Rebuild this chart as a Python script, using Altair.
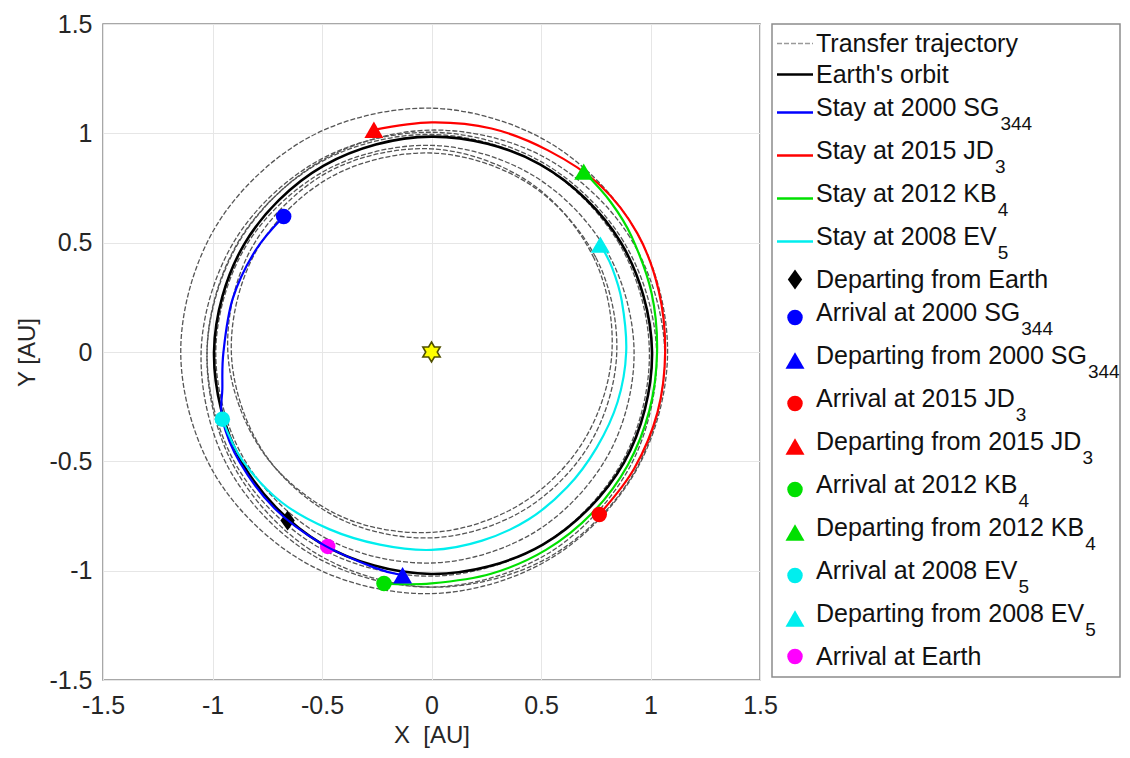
import math
import pandas as pd
import altair as alt

FONT = "Liberation Sans"

# ---------------- data ----------------
TICKS = [-1.5, -1, -0.5, 0, 0.5, 1, 1.5]

# radial readings (AU) of each closed orbit at these polar angles (deg)
ANGLES = [0, 30, 60, 90, 120, 150, 180, 210, 240, 270, 300, 330]
TRANSFER_R = {
    "T1": [1.078, 1.085, 1.098, 1.115, 1.130, 1.140, 1.145, 1.137, 1.122, 1.105, 1.090, 1.080],
    "T2": [1.028, 1.012, 1.004, 1.005, 1.016, 1.033, 1.052, 1.068, 1.076, 1.075, 1.064, 1.047],
    "T3": [0.995, 0.990, 0.990, 0.995, 1.005, 1.016, 1.025, 1.031, 1.031, 1.025, 1.016, 1.005],
    "T4": [0.925, 0.924, 0.931, 0.945, 0.961, 0.976, 0.985, 0.986, 0.979, 0.965, 0.949, 0.934],
    "T5": [0.824, 0.857, 0.896, 0.929, 0.949, 0.949, 0.930, 0.897, 0.859, 0.825, 0.806, 0.805],
    "T6": [0.846, 0.866, 0.889, 0.910, 0.923, 0.924, 0.914, 0.894, 0.871, 0.850, 0.837, 0.836],
    "T7": [1.065, 1.047, 1.029, 1.015, 1.009, 1.013, 1.025, 1.043, 1.061, 1.075, 1.081, 1.077],
}
EARTH_R = [1.007, 0.999, 0.991, 0.985, 0.984, 0.987, 0.993, 1.002, 1.010, 1.015, 1.017, 1.014]

# stay arcs (x, y in AU)
SG344_X = [-0.675, -0.804, -0.908, -0.95, -0.955, -0.955, -0.875, -0.716, -0.505, -0.264, -0.132]
SG344_Y = [0.62, 0.464, 0.243, 0.0, -0.168, -0.307, -0.505, -0.716, -0.875, -0.985, -1.021]
JD3_X = [0.766, 0.925, 1.032, 1.067, 1.038, 0.94, 0.766, 0.532, 0.274, 0.0, -0.263]
JD3_Y = [-0.743, -0.534, -0.276, 0.0, 0.278, 0.5425, 0.766, 0.922, 1.022, 1.05, 1.016]
KB4_X = [-0.217, 0.0, 0.272, 0.5225, 0.735, 0.896, 0.995, 1.03, 1.005, 0.914, 0.818, 0.695]
KB4_Y = [-1.059, -1.058, -1.014, -0.905, -0.735, -0.5175, -0.267, 0.0, 0.269, 0.5275, 0.686, 0.825]
EV5_X = [-0.955, -0.862, -0.686, -0.4675, -0.236, 0.0, 0.231, 0.4425, 0.619, 0.755, 0.850, 0.889, 0.869, 0.825, 0.771]
EV5_Y = [-0.307, -0.4975, -0.686, -0.810, -0.881, -0.905, -0.8626, -0.766, -0.619, -0.436, -0.2277, 0.0, 0.233, 0.385, 0.491]

BLUE, RED, GREEN, CYAN, MAGENTA = "#0000ff", "#ff0000", "#00e000", "#00eeee", "#ff00ff"
GRAY = "#555555"

# event markers
MK_NAME = ["Departing from Earth", "Arrival at 2000 SG344", "Departing from 2000 SG344",
           "Arrival at 2015 JD3", "Departing from 2015 JD3", "Arrival at 2012 KB4",
           "Departing from 2012 KB4", "Arrival at 2008 EV5", "Departing from 2008 EV5",
           "Arrival at Earth"]
MK_X = [-0.657, -0.675, -0.132, 0.766, -0.263, -0.217, 0.695, -0.955, 0.771, -0.474]
MK_Y = [-0.771, 0.62, -1.021, -0.743, 1.016, -1.059, 0.825, -0.307, 0.491, -0.889]
MK_COLOR = ["#000000", BLUE, BLUE, RED, RED, GREEN, GREEN, CYAN, CYAN, MAGENTA]
MK_KIND = ["diamond", "circle", "tri", "circle", "tri", "circle", "tri", "circle", "tri", "circle"]
MK_UNDER = ["Departing from Earth", "Arrival at Earth"]

SUN_X = [0.0]
SUN_Y = [0.0]

# legend
LEG_MAIN = ["Transfer trajectory", "Earth's orbit", "Stay at 2000 SG", "Stay at 2015 JD",
            "Stay at 2012 KB", "Stay at 2008 EV", "Departing from Earth", "Arrival at 2000 SG",
            "Departing from 2000 SG", "Arrival at 2015 JD", "Departing from 2015 JD",
            "Arrival at 2012 KB", "Departing from 2012 KB", "Arrival at 2008 EV",
            "Departing from 2008 EV", "Arrival at Earth"]
LEG_SUB = ["", "", "344", "3", "4", "5", "", "344", "344", "3", "3", "4", "4", "5", "5", ""]
LEG_KIND = ["dash", "line", "line", "line", "line", "line"] + MK_KIND
LEG_COLOR = ["#9a9a9a", "#000000", BLUE, RED, GREEN, CYAN] + MK_COLOR

# ---------------- styles ----------------
DIAMOND = "M0,-1L0.72,0L0,1L-0.72,0Z"
HEXAGRAM = ("M0,-1L0.2887,-0.5L0.866,-0.5L0.5774,0L0.866,0.5L0.2887,0.5L0,1"
            "L-0.2887,0.5L-0.866,0.5L-0.5774,0L-0.866,-0.5L-0.2887,-0.5Z")
SHAPE = {"diamond": DIAMOND, "circle": "circle", "tri": "triangle-up"}
SIZE = {"diamond": 400, "circle": 240, "tri": 360}

# ---------------- tables ----------------
def polar_rows(name, radii):
    out = []
    for i, (a, r) in enumerate(zip(ANGLES, radii)):
        t = math.radians(a)
        out.append(dict(name=name, order=i, x=r * math.cos(t), y=r * math.sin(t)))
    return out

gray_df = pd.DataFrame([row for n, rr in TRANSFER_R.items() for row in polar_rows(n, rr)])
earth_df = pd.DataFrame(polar_rows("Earth", EARTH_R))

arc_rows = []
for name, xs_, ys_, col in [("SG344", SG344_X, SG344_Y, BLUE), ("JD3", JD3_X, JD3_Y, RED),
                            ("KB4", KB4_X, KB4_Y, GREEN), ("EV5", EV5_X, EV5_Y, CYAN)]:
    for i, (xv, yv) in enumerate(zip(xs_, ys_)):
        arc_rows.append(dict(name=name, order=i, x=xv, y=yv, color=col))
arc_df = pd.DataFrame(arc_rows)

mk_df = pd.DataFrame(dict(name=MK_NAME, x=MK_X, y=MK_Y, color=MK_COLOR,
                          shape=[SHAPE[k] for k in MK_KIND], size=[SIZE[k] for k in MK_KIND]))
mk_df["under"] = mk_df["name"].isin(MK_UNDER)
sun_df = pd.DataFrame(dict(x=SUN_X, y=SUN_Y))

# ---------------- plot panel ----------------
LABEL_EXPR = "replace(format(datum.value, '~g'), '\u2212', '-')"
xs = alt.Scale(domain=[-1.5, 1.5], nice=False, zero=False)
ys = alt.Scale(domain=[-1.5, 1.5], nice=False, zero=False)
X = alt.X("x:Q", scale=xs, axis=alt.Axis(values=TICKS, title="X\u00a0 [AU]", labelExpr=LABEL_EXPR,
                                          labelPadding=13, titlePadding=5, labelFlush=False))
Y = alt.Y("y:Q", scale=ys, axis=alt.Axis(values=TICKS, title="Y [AU]", labelExpr=LABEL_EXPR,
                                          labelPadding=11, titlePadding=9, labelFlush=False))

gray = alt.Chart(gray_df).mark_line(interpolate="cardinal-closed", strokeDash=[5, 2],
                                    strokeWidth=1.3, color=GRAY).encode(
    x=X, y=Y, detail="name:N", order="order:Q")
earth = alt.Chart(earth_df).mark_line(interpolate="cardinal-closed", strokeWidth=2.6,
                                      color="#000000").encode(x=X, y=Y, order="order:Q")
arcs = alt.Chart(arc_df).mark_line(interpolate="cardinal", strokeWidth=2.2).encode(
    x=X, y=Y, detail="name:N", order="order:Q", color=alt.Color("color:N", scale=None))

def markers(flag):
    return alt.Chart(mk_df).transform_filter(
        alt.datum.under == flag
    ).mark_point(filled=True, opacity=1, strokeWidth=0).encode(
        x=X, y=Y,
        color=alt.Color("color:N", scale=None),
        shape=alt.Shape("shape:N", scale=None),
        size=alt.Size("size:Q", scale=None),
    )

sun = alt.Chart(sun_df).mark_point(shape=HEXAGRAM, size=400, filled=True, fill="#ffff00",
                                   stroke="#505000", strokeWidth=1.6, opacity=1).encode(x=X, y=Y)

plot = alt.layer(gray, earth, markers(True), arcs, markers(False), sun).properties(
    width=657, height=656)

# ---------------- legend panel ----------------
LW, LH = 348, 653
W = {'T': 611, 'r': 333, 'a': 556, 'n': 556, 's': 500, 'f': 278, 'e': 556, ' ': 278, 't': 278,
     'j': 222, 'c': 500, 'o': 556, 'y': 500, 'E': 667, 'h': 556, "'": 191, 'b': 556, 'i': 222,
     'S': 667, '0': 556, '1': 556, '2': 556, '5': 556, '8': 556, 'G': 778, 'J': 500, 'D': 722,
     'K': 667, 'B': 667, 'V': 667, 'p': 556, 'g': 556, 'm': 833, 'A': 667, 'v': 500, 'l': 222}
FS_MAIN, FS_SUB = 25, 19
TEXT_X, LINE_X0, LINE_X1, MARK_X = 44, 5, 41, 23

centers = []
c = 19.5
for i, sub in enumerate(LEG_SUB):
    if i > 0:
        a, b = bool(LEG_SUB[i - 1]), bool(sub)
        c += 43 if (a and b) else (31 if not (a or b) else 38)
    centers.append(c)

leg_rows = []
for i in range(len(LEG_MAIN)):
    has_sub = bool(LEG_SUB[i])
    wmain = sum(W.get(ch, 556) for ch in LEG_MAIN[i]) * FS_MAIN / 1000.0
    kind = LEG_KIND[i]
    leg_rows.append(dict(
        main=LEG_MAIN[i], sub=LEG_SUB[i], kind=kind, color=LEG_COLOR[i],
        c=centers[i], ty=centers[i] - 5 if has_sub else centers[i],
        tx=TEXT_X, sx=TEXT_X + wmain + 1, sy=centers[i] + 11,
        lx0=LINE_X0, lx1=LINE_X1, mx=MARK_X,
        shape=SHAPE.get(kind, "circle"), size=SIZE.get(kind, 0)))
leg_df = pd.DataFrame(leg_rows)

LX = alt.Scale(domain=[0, LW], nice=False, zero=False)
LY = alt.Scale(domain=[0, LH], nice=False, zero=False, reverse=True)
lbase = alt.Chart(leg_df)

l_dash = lbase.transform_filter(alt.datum.kind == "dash").mark_rule(
    strokeWidth=1.3, strokeDash=[5, 2]).encode(
    x=alt.X("lx0:Q", scale=LX, axis=None), x2="lx1:Q", y=alt.Y("c:Q", scale=LY, axis=None),
    color=alt.Color("color:N", scale=None))
l_line = lbase.transform_filter(alt.datum.kind == "line").mark_rule(strokeWidth=2.4).encode(
    x=alt.X("lx0:Q", scale=LX, axis=None), x2="lx1:Q", y=alt.Y("c:Q", scale=LY, axis=None),
    color=alt.Color("color:N", scale=None))
l_mark = lbase.transform_filter(
    (alt.datum.kind != "dash") & (alt.datum.kind != "line")
).mark_point(filled=True, opacity=1, strokeWidth=0).encode(
    x=alt.X("mx:Q", scale=LX, axis=None), y=alt.Y("c:Q", scale=LY, axis=None),
    color=alt.Color("color:N", scale=None), shape=alt.Shape("shape:N", scale=None),
    size=alt.Size("size:Q", scale=None))
l_text = lbase.mark_text(align="left", baseline="middle", font=FONT, fontSize=FS_MAIN,
                         color="#111111").encode(
    x=alt.X("tx:Q", scale=LX, axis=None), y=alt.Y("ty:Q", scale=LY, axis=None), text="main:N")
l_sub = lbase.transform_filter(alt.datum.sub != "").mark_text(
    align="left", baseline="middle", font=FONT, fontSize=FS_SUB, color="#111111").encode(
    x=alt.X("sx:Q", scale=LX, axis=None), y=alt.Y("sy:Q", scale=LY, axis=None), text="sub:N")

legend = alt.layer(l_dash, l_line, l_mark, l_text, l_sub).properties(width=LW, height=LH)

chart = alt.hconcat(plot, legend, spacing=12, bounds="flush").properties(
    padding={"left": 7, "top": 3, "right": 0, "bottom": 0}
).configure_view(
    stroke="#8c8c8c", strokeWidth=1.5
).configure_axis(
    labelFont=FONT, titleFont=FONT, labelFontSize=25, titleFontSize=24,
    titleFontWeight="normal", labelColor="#262626", titleColor="#262626",
    gridColor="#e6e6e6", gridWidth=1, domain=False, ticks=False
)

chart.save("out.html", embed_options={"renderer": "svg", "actions": False})
